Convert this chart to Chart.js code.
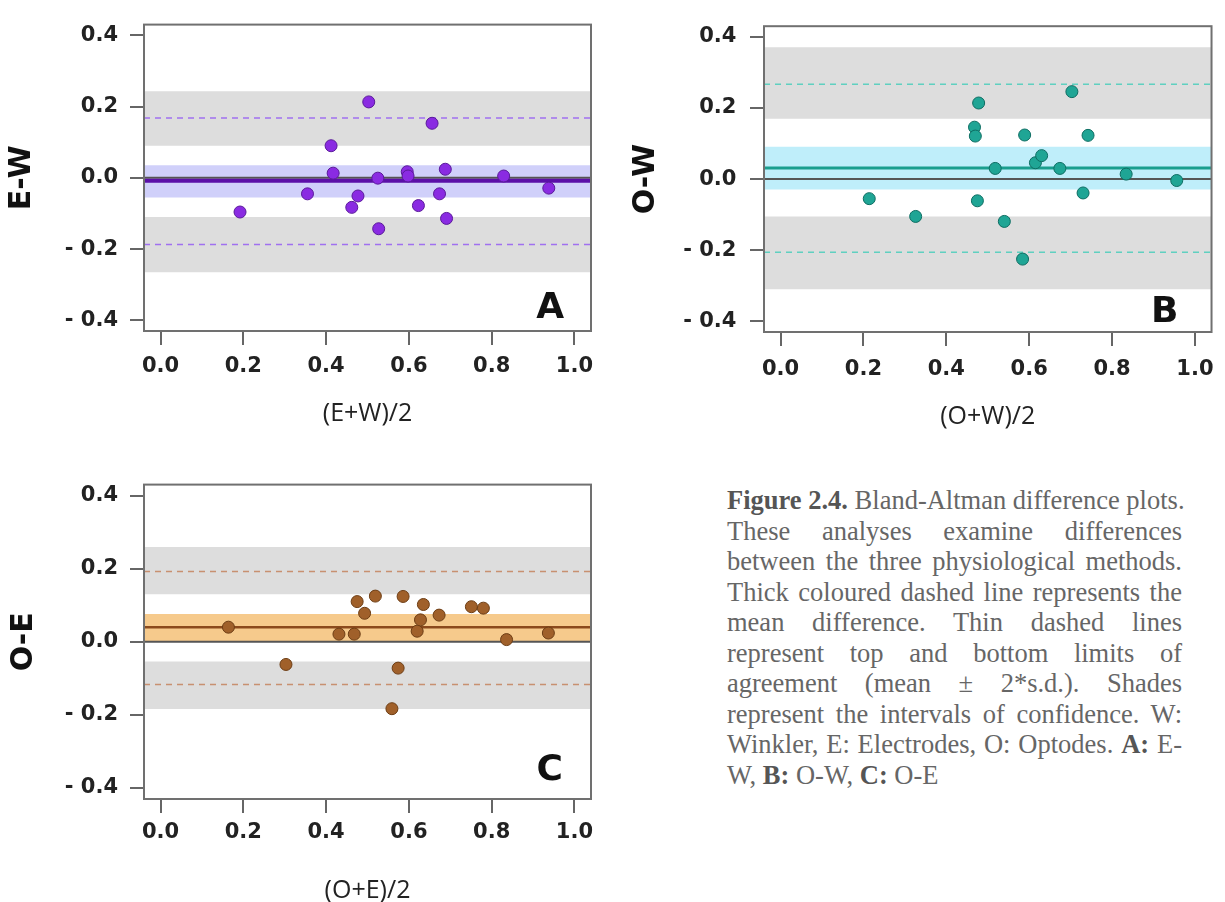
<!DOCTYPE html>
<html lang="en">
<head>
<meta charset="UTF-8">
<title>Bland-Altman difference plots</title>
<script src="https://cdn.jsdelivr.net/npm/chart.js"></script>
<style>
    body {
        margin: 0;
        background: #fff;
        width: 1225px;
        height: 902px;
        overflow: hidden;
        position: relative;
    }
    .panel { position: absolute; }
    .caption {
        position: absolute;
        left: 727px;
        top: 485px;
        width: 455px;
        font-family: "Liberation Serif", "Times New Roman", serif;
        font-size: 26.5px;
        line-height: 30.5px;
        color: #666;
    }
    .caption div { white-space: nowrap; text-align: justify; text-align-last: justify; }
    .caption div.last { text-align-last: left; }
    .caption b { color: #555; }
</style>
</head>
<body>

<div class="panel" style="left:0;top:0"><canvas id="chartA" width="620" height="440"></canvas></div>
<div class="panel" style="left:620px;top:0"><canvas id="chartB" width="605" height="440"></canvas></div>
<div class="panel" style="left:0;top:460px"><canvas id="chartC" width="620" height="450"></canvas></div>

<div class="caption">
    <div><b>Figure 2.4.</b> Bland-Altman difference plots.</div>
    <div>These analyses examine differences</div>
    <div>between the three physiological methods.</div>
    <div>Thick coloured dashed line represents the</div>
    <div>mean difference. Thin dashed lines</div>
    <div>represent top and bottom limits of</div>
    <div>agreement (mean ± 2*s.d.). Shades</div>
    <div>represent the intervals of confidence. W:</div>
    <div>Winkler, E: Electrodes, O: Optodes. <b>A:</b> E-</div>
    <div class="last">W, <b>B:</b> O-W, <b>C:</b> O-E</div>
</div>

<script>
    // axis ticks and limits (shared by the three panels)
    const xTicks = [0.0, 0.2, 0.4, 0.6, 0.8, 1.0];
    const yTicks = [-0.4, -0.2, 0.0, 0.2, 0.4];
    const xLimits = [-0.04, 1.04];
    const yLimits = [-0.43, 0.43];

    // A: E-W
    const ewAvg  = [0.192, 0.355, 0.412, 0.417, 0.462, 0.477, 0.503, 0.525, 0.527, 0.596, 0.598, 0.623, 0.656, 0.674, 0.688, 0.691, 0.829, 0.938];
    const ewDiff = [-0.096, -0.045, 0.090, 0.013, -0.083, -0.051, 0.213, -0.001, -0.143, 0.017, 0.005, -0.078, 0.153, -0.045, 0.024, -0.114, 0.005, -0.029];
    const ewLines = [-0.008, 0.168, -0.187];            // mean, upper limit, lower limit
    const ewMeanShade  = [0.035, -0.055];
    const ewUpperShade = [0.243, 0.090];
    const ewLowerShade = [-0.110, -0.265];

    // B: O-W
    const owAvg  = [0.214, 0.326, 0.468, 0.470, 0.478, 0.475, 0.518, 0.540, 0.584, 0.589, 0.615, 0.630, 0.674, 0.703, 0.730, 0.742, 0.834, 0.956];
    const owDiff = [-0.055, -0.105, 0.146, 0.121, 0.214, -0.061, 0.030, -0.119, -0.225, 0.124, 0.046, 0.066, 0.030, 0.246, -0.039, 0.123, 0.014, -0.004];
    const owLines = [0.031, 0.267, -0.206];
    const owMeanShade  = [0.091, -0.029];
    const owUpperShade = [0.371, 0.170];
    const owLowerShade = [-0.105, -0.310];

    // C: O-E
    const oeAvg  = [0.164, 0.303, 0.431, 0.468, 0.475, 0.493, 0.519, 0.559, 0.574, 0.586, 0.620, 0.628, 0.635, 0.673, 0.751, 0.780, 0.836, 0.937];
    const oeDiff = [0.040, -0.062, 0.021, 0.021, 0.110, 0.078, 0.125, -0.183, -0.072, 0.124, 0.029, 0.060, 0.102, 0.073, 0.096, 0.092, 0.006, 0.024];
    const oeLines = [0.040, 0.192, -0.117];
    const oeMeanShade  = [0.076, 0.002];
    const oeUpperShade = [0.259, 0.130];
    const oeLowerShade = [-0.054, -0.184];

    function hline(y) {
        return [{ x: xLimits[0], y: y }, { x: xLimits[1], y: y }];
    }

    function shade(band, color) {
        return {
            data: hline(band[0]),
            showLine: true,
            borderWidth: 0,
            pointRadius: 0,
            backgroundColor: color,
            fill: { value: band[1] },
            order: 6
        };
    }

    function yLabel(v) {
        if (Math.abs(v) < 1e-9) return '0.0';
        return v < 0 ? '- ' + Math.abs(v).toFixed(1) : v.toFixed(1);
    }

    const framePlugin = {
        id: 'frame',
        afterDraw(chart, args, opts) {
            const { ctx, chartArea: a } = chart;
            ctx.save();
            ctx.strokeStyle = '#707070';
            ctx.lineWidth = 2;
            ctx.strokeRect(a.left, a.top, a.right - a.left, a.bottom - a.top);
            ctx.fillStyle = '#111';
            ctx.font = 'bold 36px "DejaVu Sans"';
            ctx.textAlign = 'right';
            ctx.textBaseline = 'alphabetic';
            ctx.fillText(opts.letter, a.right - opts.dx, a.bottom - opts.dy);
            ctx.restore();
        }
    };

    function drawPanel(id, p) {
        const points = p.avg.map((x, i) => ({ x: x, y: p.diff[i] }));
        const datasets = [
            {
                data: points,
                pointRadius: 6,
                pointBackgroundColor: p.pointColor,
                pointBorderColor: p.pointBorder,
                pointBorderWidth: 1,
                order: 1
            },
            {
                data: hline(p.lines[0]),
                showLine: true, pointRadius: 0,
                borderColor: p.meanColor, borderWidth: p.meanWidth,
                order: 2
            },
            {
                data: hline(0),
                showLine: true, pointRadius: 0,
                borderColor: '#555', borderWidth: 2,
                order: 3
            },
            {
                data: hline(p.lines[1]),
                showLine: true, pointRadius: 0,
                borderColor: p.dashColor, borderWidth: 1.5, borderDash: [6, 5],
                order: 4
            },
            {
                data: hline(p.lines[2]),
                showLine: true, pointRadius: 0,
                borderColor: p.dashColor, borderWidth: 1.5, borderDash: [6, 5],
                order: 4
            },
            shade(p.meanShade, p.shadeColor),
            shade(p.upperShade, '#dddddd'),
            shade(p.lowerShade, '#dddddd')
        ];

        new Chart(document.getElementById(id), {
            type: 'scatter',
            data: { datasets: datasets },
            plugins: [framePlugin],
            options: {
                responsive: false,
                animation: false,
                layout: { padding: { top: p.padTop, right: p.padRight, left: 0, bottom: 0 } },
                plugins: {
                    legend: { display: false },
                    tooltip: { enabled: false },
                    frame: { letter: p.letter, dx: p.letterDx, dy: p.letterDy }
                },
                scales: {
                    x: {
                        min: xLimits[0], max: xLimits[1],
                        afterBuildTicks: s => { s.ticks = xTicks.map(v => ({ value: v })); },
                        afterFit: s => { s.height = p.xAxisHeight; },
                        grid: { drawOnChartArea: false, tickLength: 14, color: '#666', lineWidth: 2 },
                        border: { display: false },
                        ticks: {
                            padding: p.xTickPad,
                            color: '#222',
                            font: { family: 'DejaVu Sans', size: 21, weight: 'bold' },
                            callback: v => v.toFixed(1),
                            maxRotation: 0
                        },
                        title: {
                            display: true, text: p.xTitle, color: '#222',
                            font: { family: 'Open Sans', size: 25 },
                            padding: { top: 0, bottom: p.xTitlePad }
                        }
                    },
                    y: {
                        min: yLimits[0], max: yLimits[1],
                        afterBuildTicks: s => { s.ticks = yTicks.map(v => ({ value: v })); },
                        afterFit: s => { s.width = p.yAxisWidth; },
                        grid: { drawOnChartArea: false, tickLength: 14, color: '#666', lineWidth: 2 },
                        border: { display: false },
                        ticks: {
                            padding: p.yTickPad,
                            color: '#222',
                            font: { family: 'DejaVu Sans', size: 21, weight: 'bold' },
                            callback: v => yLabel(v)
                        },
                        title: {
                            display: true, text: p.yTitle, color: '#111',
                            font: { family: 'DejaVu Sans', size: 30, weight: 'bold' },
                            padding: { top: p.yTitlePad, bottom: 0 }
                        }
                    }
                }
            }
        });
    }

    drawPanel('chartA', {
        avg: ewAvg, diff: ewDiff, lines: ewLines,
        meanShade: ewMeanShade, upperShade: ewUpperShade, lowerShade: ewLowerShade,
        pointColor: '#8a2be2', pointBorder: '#5a1a9a',
        meanColor: '#5b0fa8', meanWidth: 4, dashColor: '#a070f0', shadeColor: '#d0d0fa',
        xTitle: '(E+W)/2', yTitle: 'E-W', letter: 'A',
        padTop: 14, padRight: 29, yAxisWidth: 144, xAxisHeight: 109,
        xTickPad: 9, xTitlePad: 11, yTickPad: 12, yTitlePad: 4,
        letterDx: 27, letterDy: 13
    });

    drawPanel('chartB', {
        avg: owAvg, diff: owDiff, lines: owLines,
        meanShade: owMeanShade, upperShade: owUpperShade, lowerShade: owLowerShade,
        pointColor: '#1fa595', pointBorder: '#0d6d62',
        meanColor: '#1a9e8e', meanWidth: 3, dashColor: '#5fd0c0', shadeColor: '#bfeefa',
        xTitle: '(O+W)/2', yTitle: 'O-W', letter: 'B',
        padTop: 12, padRight: 12, yAxisWidth: 144, xAxisHeight: 108,
        xTickPad: 11, xTitlePad: 8, yTickPad: 13.6, yTitlePad: 8,
        letterDx: 33, letterDy: 10
    });

    drawPanel('chartC', {
        avg: oeAvg, diff: oeDiff, lines: oeLines,
        meanShade: oeMeanShade, upperShade: oeUpperShade, lowerShade: oeLowerShade,
        pointColor: '#a0602a', pointBorder: '#6d3d14',
        meanColor: '#8b4a1c', meanWidth: 2.5, dashColor: '#c89070', shadeColor: '#f6ca8c',
        xTitle: '(O+E)/2', yTitle: 'O-E', letter: 'C',
        padTop: 19, padRight: 29, yAxisWidth: 144, xAxisHeight: 111,
        xTickPad: 7, xTitlePad: 4, yTickPad: 12, yTitlePad: 6,
        letterDx: 28, letterDy: 19
    });
</script>

</body>
</html>
